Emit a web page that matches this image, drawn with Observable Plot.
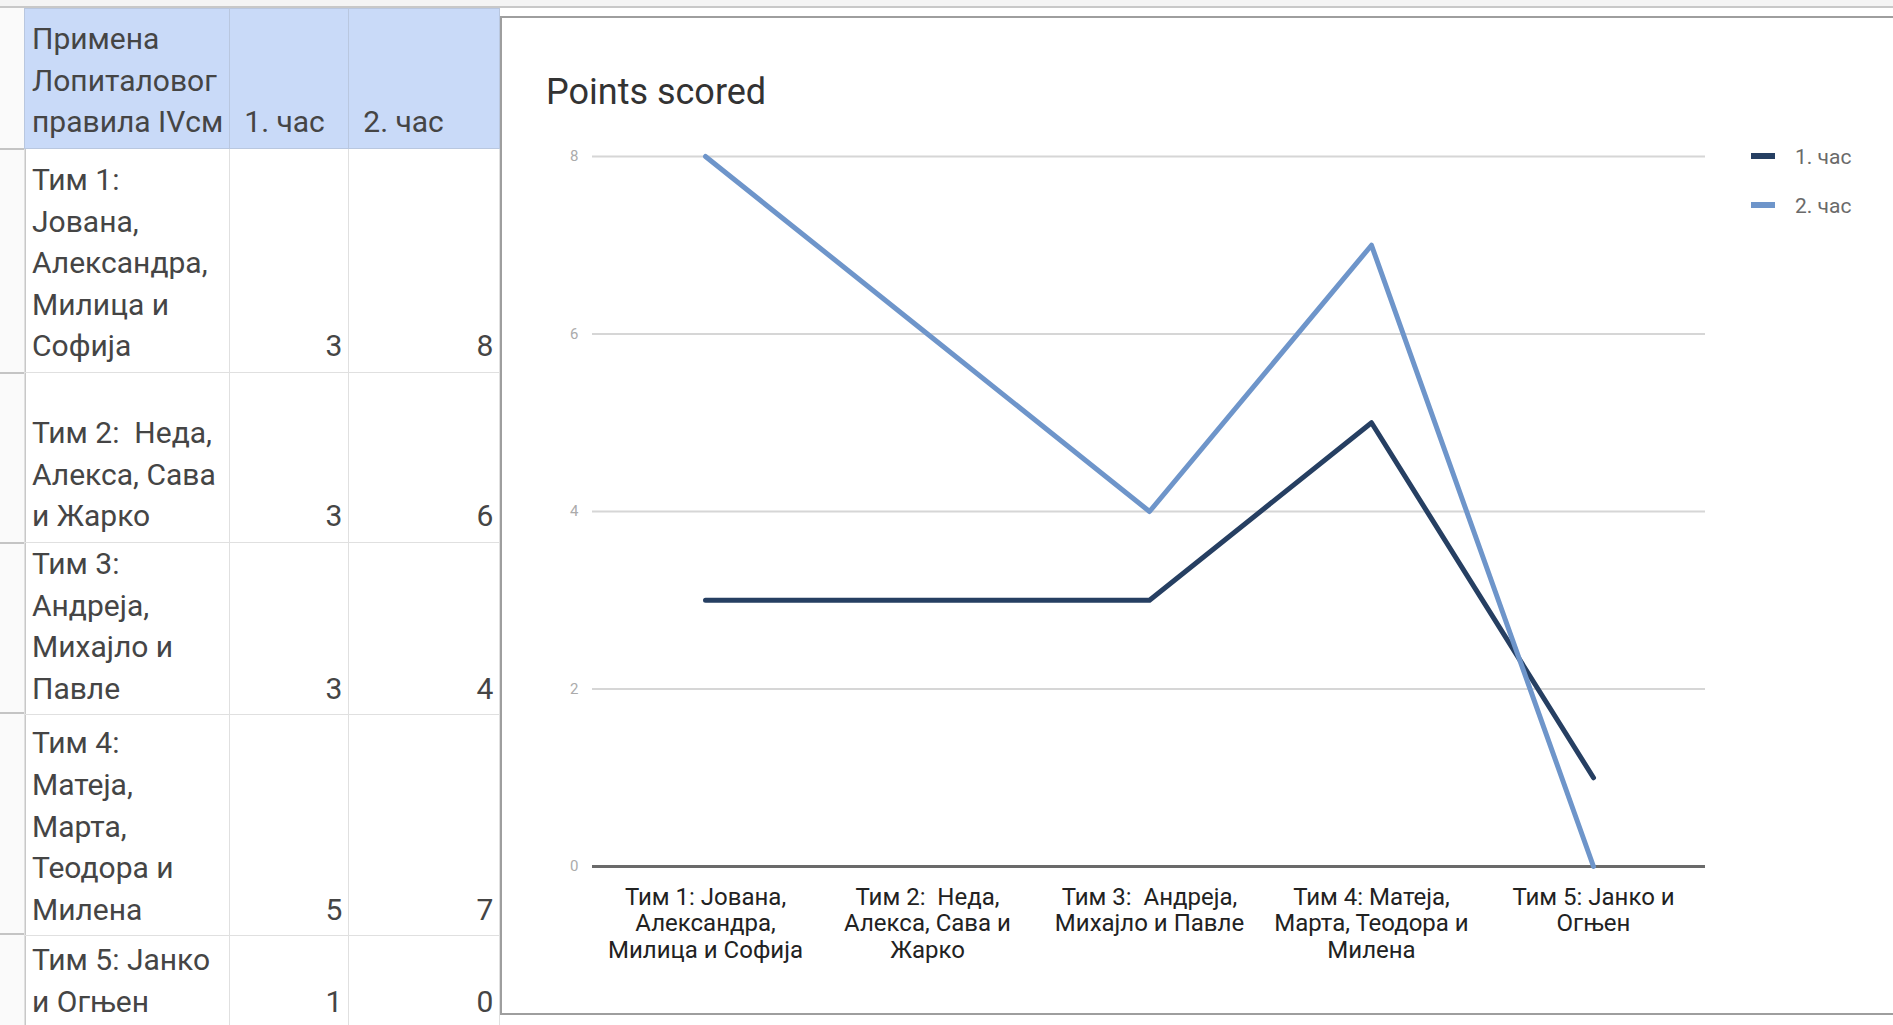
<!DOCTYPE html>
<html>
<head>
<meta charset="utf-8">
<script src="https://cdn.jsdelivr.net/npm/d3@7"></script>
<script src="https://cdn.jsdelivr.net/npm/@observablehq/plot@0.6"></script>
<style>
  html, body { margin: 0; padding: 0; background: #fff; }
  body { width: 1893px; height: 1025px; overflow: hidden; position: relative; font-family: Roboto, "Noto Sans", sans-serif; }
  #ruler { position: absolute; left: 0; top: 0; width: 1893px; height: 6px; background: #f4f4f4; border-bottom: 2px solid #c8c8c8; }
  #strip { position: absolute; left: 0; top: 8px; width: 24px; height: 1017px; background: #fafafa; border-right: 2px solid #c8c8c8; }
  .stripline { position: absolute; left: 0; width: 24px; height: 0; border-top: 2px solid #c4c4c4; }
  table { position: absolute; left: 24px; top: 8px; border-collapse: collapse; table-layout: fixed; color: #454545; font-size: 30px; line-height: 41.6px; }
  td { border: 1px solid #e0e0e0; vertical-align: bottom; padding: 0 6px 5px 7px; overflow: hidden; white-space: nowrap; }
  td.num { text-align: right; padding-right: 6px; }
  tr.head td { background: #c9daf8; border-color: #b9c7df; }
  tr.head td + td { padding-left: 14px; }
  #panel { position: absolute; left: 500px; top: 16px; width: 1420px; height: 999px; background: #fff; border: 2px solid #9e9e9e; box-sizing: border-box; }
  #title { position: absolute; left: 546px; top: 74px; font-size: 36px; line-height: 36px; color: #333; white-space: nowrap; }
  #chart { position: absolute; left: 501px; top: 17px; }
  #legend { position: absolute; left: 1751px; top: 145px; font-size: 21px; color: #6a6a6a; }
  .item { position: relative; height: 49px; line-height: 24px; white-space: nowrap; }
  .sw { display: inline-block; width: 24px; height: 6px; vertical-align: middle; margin-right: 20px; position: relative; top: -2px; }
</style>
</head>
<body>
<div id="ruler"></div>
<div id="strip"></div>
<table id="sheet"></table>
<div id="panel"></div>
<div id="title">Points scored</div>
<div id="chart"></div>
<div id="legend"></div>
<script>
// ---- data ----
const teams = [
  "Тим 1: Јована, Александра, Милица и Софија",
  "Тим 2:  Неда, Алекса, Сава и Жарко",
  "Тим 3:  Андреја, Михајло и Павле",
  "Тим 4: Матеја, Марта, Теодора и Милена",
  "Тим 5: Јанко и Огњен"
];
const axisLabels = [
  "Тим 1: Јована,\nАлександра,\nМилица и Софија",
  "Тим 2:  Неда,\nАлекса, Сава и\nЖарко",
  "Тим 3:  Андреја,\nМихајло и Павле",
  "Тим 4: Матеја,\nМарта, Теодора и\nМилена",
  "Тим 5: Јанко и\nОгњен"
];
const tableLabels = [
  ["Тим 1:", "Јована,", "Александра,", "Милица и", "Софија"],
  ["Тим 2:  Неда,", "Алекса, Сава", "и Жарко"],
  ["Тим 3:", "Андреја,", "Михајло и", "Павле"],
  ["Тим 4:", "Матеја,", "Марта,", "Теодора и", "Милена"],
  ["Тим 5: Јанко", "и Огњен"]
];
const tableTitle = ["Примена", "Лопиталовог", "правила IVсм"];
const series = ["1. час", "2. час"];
const hour1 = [3, 3, 3, 5, 1];
const hour2 = [8, 6, 4, 7, 0];
const yTicks = [0, 2, 4, 6, 8];
const colors = ["#263f62", "#6e95ca"];

// ---- spreadsheet table ----
const colWidths = [205, 119, 151];
const rowHeights = [140, 224, 170, 170, 221, 92];
const sheet = document.getElementById("sheet");
const cg = document.createElement("colgroup");
colWidths.forEach(w => { const c = document.createElement("col"); c.style.width = w + "px"; cg.appendChild(c); });
sheet.appendChild(cg);
function addRow(cells, h, cls) {
  const tr = document.createElement("tr");
  if (cls) tr.className = cls;
  tr.style.height = h + "px";
  cells.forEach((c, j) => {
    const td = document.createElement("td");
    if (Array.isArray(c)) td.innerHTML = c.map(s => s.replace(/ /g, "&nbsp;")).join("<br>");
    else td.textContent = c;
    if (j > 0 && cls !== "head") td.className = "num";
    tr.appendChild(td);
  });
  sheet.appendChild(tr);
}
addRow([tableTitle, series[0], series[1]], rowHeights[0], "head");
teams.forEach((t, i) => addRow([tableLabels[i], String(hour1[i]), String(hour2[i])], rowHeights[i + 1]));
const strip = document.getElementById("strip");
let acc = 0;
rowHeights.forEach(h => {
  acc += h;
  const d = document.createElement("div");
  d.className = "stripline"; d.style.top = acc + "px";
  strip.appendChild(d);
});

// ---- chart ----
const data = teams.flatMap((t, i) => [
  {team: t, series: series[0], value: hour1[i]},
  {team: t, series: series[1], value: hour2[i]}
]);

const chart = Plot.plot({
  width: 1392,
  height: 1008,
  marginLeft: 91,
  marginRight: 188,
  marginTop: 139,
  marginBottom: 159,
  style: {fontFamily: "Roboto, sans-serif", background: "transparent", overflow: "visible"},
  x: {type: "point", domain: teams, padding: 0.5, axis: null},
  y: {domain: [0, 8], axis: null},
  color: {domain: series, range: colors},
  marks: [
    Plot.ruleY(yTicks.filter(d => d > 0), {stroke: "#d6d6d6", strokeWidth: 2}),
    Plot.axisY(yTicks, {tickSize: 0, tickPadding: 14, fontSize: 15, fill: "#ababab", label: null,
      tickFormat: d => String(d)}),
    Plot.axisX({tickSize: 0, tickPadding: 19, fontSize: 24, fill: "#222", lineHeight: 1.12, label: null,
      tickFormat: d => axisLabels[teams.indexOf(d)]}),
    Plot.ruleY([0], {stroke: "#6a6a6a", strokeWidth: 3}),
    Plot.line(data, {x: "team", y: "value", z: "series", stroke: "series", strokeWidth: 5})
  ]
});
document.getElementById("chart").appendChild(chart);

// ---- legend ----
const legend = document.getElementById("legend");
series.forEach((s, i) => {
  const it = document.createElement("div");
  it.className = "item";
  it.innerHTML = `<span class="sw" style="background:${colors[i]}"></span>${s}`;
  legend.appendChild(it);
});
</script>
</body>
</html>
